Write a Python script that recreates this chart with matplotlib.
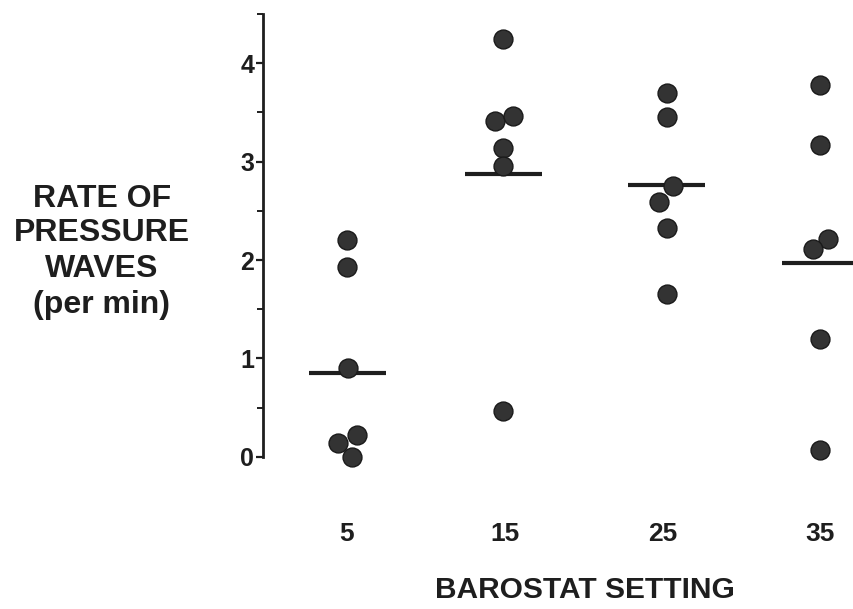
import numpy as np
import matplotlib
matplotlib.use("Agg")
import matplotlib.pyplot as plt
from matplotlib.ticker import MultipleLocator

plt.rcParams['font.family'] = ['Liberation Sans', 'DejaVu Sans']
plt.rcParams['font.weight'] = 'bold'

# barostat settings and the rates
settings = [5, 15, 25, 35]
x_5 = [4.98, 4.98, 5.08, 4.45, 5.62, 5.30]
y_5 = [2.20, 1.93, 0.90, 0.14, 0.22, 0.00]
x_15 = [14.91, 14.38, 15.55, 14.91, 14.91, 14.91]
y_15 = [4.25, 3.41, 3.46, 3.14, 2.96, 0.46]
x_25 = [25.27, 25.27, 25.69, 24.80, 25.27, 25.27]
y_25 = [3.70, 3.45, 2.75, 2.59, 2.33, 1.65]
x_35 = [34.99, 34.99, 35.52, 34.53, 34.99, 34.99]
y_35 = [3.78, 3.17, 2.21, 2.11, 1.20, 0.07]
mean_x = [5.02, 14.94, 25.27, 35.0]
means = [0.85, 2.87, 2.76, 1.97]

fig = plt.figure(figsize=(8.54, 6.09), dpi=100)
ax = fig.add_axes([0.3076, 0.2177, 0.6924, 0.7753])
ax.set_xlim(-0.345, 37.15)
ax.set_ylim(-0.2, 4.6)

half = 2.43
ax.hlines(means, np.array(mean_x) - half, np.array(mean_x) + half,
          color='#1e1e1e', linewidth=3.0, zorder=2)

for xs, ys in [(x_5, y_5), (x_15, y_15), (x_25, y_25), (x_35, y_35)]:
    ax.scatter(xs, ys, s=185, color='#333333', edgecolors='#1a1a1a',
               linewidths=1.0, zorder=3)

for s in ['top', 'right', 'bottom']:
    ax.spines[s].set_visible(False)
ax.spines['left'].set_bounds(0, 4.5)
ax.spines['left'].set_linewidth(2.0)
ax.spines['left'].set_color('#1e1e1e')

ax.yaxis.set_major_locator(MultipleLocator(1))
ax.yaxis.set_minor_locator(MultipleLocator(0.5))
ax.set_yticks([0, 1, 2, 3, 4])
ax.tick_params(axis='y', which='major', length=5, width=1.6, pad=1,
               labelsize=18, colors='#1e1e1e')
ax.tick_params(axis='y', which='minor', length=4, width=1.4, colors='#1e1e1e')

ax.set_xticks(settings)
ax.set_xticklabels([str(v) for v in settings])
ax.tick_params(axis='x', length=0, pad=33, labelsize=19, colors='#1e1e1e')

fig.text(585 / 854, 1 - 590 / 609, 'BAROSTAT SETTING', ha='center', va='center',
         fontsize=21.5, fontweight='bold', color='#1e1e1e')

ylab = ['RATE OF', 'PRESSURE', 'WAVES', '(per min)']
baselines = [207, 241, 277, 313]
for t, b in zip(ylab, baselines):
    fig.text(102 / 854, 1 - b / 609, t, ha='center', va='baseline',
             fontsize=23, fontweight='bold', color='#1e1e1e')

fig.savefig('out.png', dpi=100)
